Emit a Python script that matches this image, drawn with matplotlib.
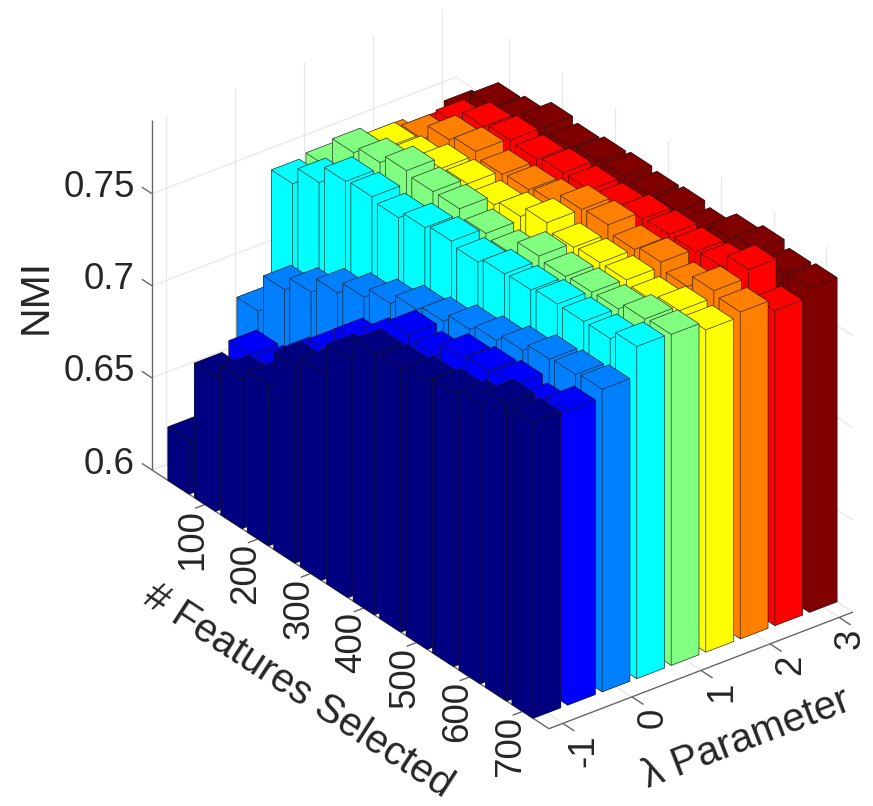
import matplotlib
matplotlib.use("Agg")
import matplotlib.pyplot as plt
from mpl_toolkits.mplot3d import proj3d

W, H = 873, 806
plt.rcParams['font.family'] = ['Liberation Sans', 'DejaVu Sans']

features = [50, 100, 150, 200, 250, 300, 350, 400, 450, 500, 550, 600, 650, 700]
lambdas = [-1, -0.5, 0, 0.5, 1, 1.5, 2, 2.5, 3]
nmi_m10 = [.629, .673, .681, .687, .707, .713, .730, .742, .743, .746, .7486, .7518, .7615, .7607]
nmi_m05 = [.640, .678, .679, .693, .707, .722, .7315, .745, .743, .751, .7534, .7552, .7523, .7599]
nmi_00 = [.685, .706, .714, .723, .730, .736, .742, .745, .750, .7534, .7573, .7619, .763, .7643]
nmi_05 = [.747, .757, .767, .768, .766, .770, .772, .770, .773, .7736, .7753, .7752, .7753, .7803]
nmi_10 = [.749, .766, .770, .775, .773, .773, .769, .767, .7754, .7737, .7745, .7748, .7787, .7797]
nmi_15 = [.745, .762, .764, .769, .770, .768, .771, .777, .773, .774, .774, .772, .776, .775]
nmi_20 = [.747, .759, .768, .771, .768, .769, .771, .777, .778, .774, .7765, .7726, .7797, .7775]
nmi_25 = [.744, .760, .768, .770, .769, .771, .771, .771, .774, .775, .775, .776, .784, .771]
nmi_30 = [.7485, .762, .764, .770, .768, .770, .771, .770, .771, .769, .775, .778, .775, .776]
rows = [nmi_m10, nmi_m05, nmi_00, nmi_05, nmi_10, nmi_15, nmi_20, nmi_25, nmi_30]
colors = ['#000080', '#0000ff', '#0080ff', '#00ffff', '#80ff80',
          '#ffff00', '#ff8000', '#ff0000', '#800000']
feature_ticks = [100, 200, 300, 400, 500, 600, 700]
lambda_ticks = [-1, 0, 1, 2, 3]
lambda_tick_labels = ['-1', '0', '1', '2', '3']
nmi_ticks = [0.6, 0.65, 0.7, 0.75]
nmi_tick_labels = ['0.6', '0.65', '0.7', '0.75']

xlim = (0, 750)
ylim = (-1.2, 3.2)
zlim = (0.6, 0.79)
bar_dx = 40
bar_dy = 0.4
ASPECT = (652, 383, 404)
TXT = '#262626'
GRID = '#e8e8e8'
AX = '#666666'

fig = plt.figure(figsize=(W / 100, H / 100), dpi=100)
ax = fig.add_axes([0, 0, 1, 1], projection='3d', computed_zorder=False, proj_type='ortho')
ax.set_xlim(*xlim, view_margin=0)
ax.set_ylim(*ylim, view_margin=0)
ax.set_zlim(*zlim, view_margin=0)
ax.view_init(elev=30, azim=-37.5)
ax.set_axis_off()
ax.patch.set_visible(False)
ax.set_box_aspect(ASPECT, zoom=1.0)


def px(x, y, z):
    a, b, _ = proj3d.proj_transform(x, y, z, ax.get_proj())
    X, Y = ax.transData.transform((a, b))
    return X, H - Y


# scale and place the projected box on the reference's corners
fig.canvas.draw()
x0, y0 = px(xlim[0], ylim[0], zlim[0])
x1, y1 = px(xlim[1], ylim[0], zlim[0])
ax.set_box_aspect(ASPECT, zoom=397.0 / (x1 - x0))
fig.canvas.draw()
x0, y0 = px(xlim[0], ylim[0], zlim[0])
pos = ax.get_position(original=True)
ax.set_position([pos.x0 + (152 - x0) / W, pos.y0 - (470 - y0) / H, pos.width, pos.height])
fig.canvas.draw()


def line(xs, ys, zs, color=GRID, lw=0.9, z=1):
    ax.plot(xs, ys, zs, color=color, lw=lw, zorder=z, solid_capstyle='butt')


# walls and floor grid
for t in nmi_ticks:
    line([0, 0], [ylim[0], ylim[1]], [t, t])
    line([0, xlim[1]], [ylim[1], ylim[1]], [t, t])
for t in lambda_ticks:
    line([0, 0], [t, t], zlim)
    line([0, xlim[1]], [t, t], [zlim[0]] * 2)
for t in feature_ticks:
    line([t, t], [ylim[1]] * 2, zlim)
    line([t, t], ylim, [zlim[0]] * 2)
line([0, 0], ylim, [zlim[0]] * 2)
line([0, xlim[1]], [ylim[1]] * 2, [zlim[0]] * 2)
line([xlim[1], xlim[1]], ylim, [zlim[0]] * 2, color=AX, lw=1.0, z=2)
line([0, xlim[1]], [ylim[0]] * 2, [zlim[0]] * 2, color=AX, lw=1.0, z=2)
line([0, 0], [ylim[0]] * 2, zlim, color=AX, lw=1.0, z=2)

# tick marks
for t in nmi_ticks:
    line([-19, 0], [ylim[0]] * 2, [t, t], color=AX, lw=1.0, z=2)
for t in feature_ticks:
    line([t, t], [ylim[0] - 0.145, ylim[0]], [zlim[0]] * 2, color=AX, lw=1.0, z=2)
for t in lambda_ticks:
    line([xlim[1], xlim[1] + 22], [t, t], [zlim[0]] * 2, color=AX, lw=1.0, z=2)

# bars: far rows first, then left to right along the features axis
order = 10
for r in range(len(lambdas) - 1, -1, -1):
    for i in range(len(features)):
        ax.bar3d(features[i] - bar_dx / 2, lambdas[r] - bar_dy / 2, zlim[0],
                 bar_dx, bar_dy, rows[r][i] - zlim[0],
                 color=colors[r], shade=False,
                 edgecolor=(0.1, 0.1, 0.1, 0.6), linewidth=0.55, zorder=order)
        order += 1


def label(X, Y, s, rot=0, ha='center', va='center', size=26.5):
    fig.text(X / W, 1 - Y / H, s, rotation=rot, ha=ha, va=va, fontsize=size, color=TXT,
             rotation_mode='anchor')


for t, s in zip(nmi_ticks, nmi_tick_labels):
    X, Y = px(0, ylim[0], t)
    label(X - 17, Y - 6, s, ha='right')
for t in feature_ticks:
    X, Y = px(t, ylim[0], zlim[0])
    label(X - 12, Y + 35, str(t), rot=90)
for t, s in zip(lambda_ticks, lambda_tick_labels):
    X, Y = px(xlim[1], t, zlim[0])
    # the 3 sits against the right edge of the picture, as in the reference
    label(X + (11 if s == '3' else 21), Y + (27 if s == '-1' else 21), s, rot=90)

label(36, 296, 'NMI', rot=90, size=29.5)
label(298, 691, '# Features Selected', rot=-33, size=29)
label(746, 738, 'λ Parameter', rot=21, size=29)

fig.savefig('out.png', dpi=100)
